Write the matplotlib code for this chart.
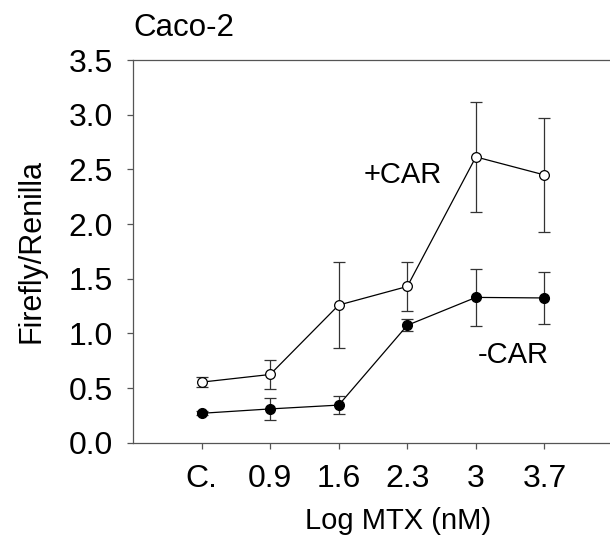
import numpy as np
import matplotlib.pyplot as plt

plt.rcParams['font.family'] = ['Liberation Sans', 'DejaVu Sans']

# categories on the x axis
doses = ["C.", "0.9", "1.6", "2.3", "3", "3.7"]

# +CAR (open circles)
car_plus = [0.555, 0.625, 1.26, 1.43, 2.615, 2.45]
car_plus_err = [0.045, 0.135, 0.39, 0.22, 0.50, 0.52]

# -CAR (filled circles)
car_minus = [0.27, 0.31, 0.345, 1.075, 1.33, 1.325]
car_minus_err = [0.02, 0.10, 0.08, 0.055, 0.26, 0.24]

x = np.arange(1, len(doses) + 1)

fig = plt.figure(figsize=(6.1, 5.42), dpi=100)
ax = fig.add_axes([0.218, 0.183, 0.787, 0.706])

ax.errorbar(x, car_plus, yerr=car_plus_err, color='black', lw=0.9,
            marker='o', ms=7, mfc='white', mec='black', mew=0.9,
            ecolor='#333333', elinewidth=0.9, capsize=4, capthick=0.9)
ax.errorbar(x, car_minus, yerr=car_minus_err, color='black', lw=0.9,
            marker='o', ms=7, mfc='black', mec='black',
            ecolor='#333333', elinewidth=0.9, capsize=4, capthick=0.9)

ax.text(3.94, 2.377, "+CAR", fontsize=21, ha='center', va='baseline')
ax.text(5.54, 0.734, "-CAR", fontsize=21, ha='center', va='baseline')

ax.set_xlim(0, 7)
ax.set_ylim(0, 3.5)
ax.set_xticks(x)
ax.set_xticklabels(doses)
ax.set_yticks(np.arange(0, 3.51, 0.5))
ax.set_yticklabels([f"{v:.1f}" for v in np.arange(0, 3.51, 0.5)])
ax.tick_params(direction='out', length=4.5, width=0.9, color='#555555',
               labelsize=23, pad=10)
ax.tick_params(axis='x', pad=11)

for side in ['left', 'bottom', 'top']:
    ax.spines[side].set_color('#555555')
    ax.spines[side].set_linewidth(0.9)
ax.spines['right'].set_visible(False)

ax.set_xlabel("Log MTX (nM)", fontsize=21)
ax.xaxis.set_label_coords(0.552, -0.167)
ax.set_ylabel("Firefly/Renilla", fontsize=22)
ax.yaxis.set_label_coords(-0.18, 0.5)

fig.text(0.218, 0.9336, "Caco-2", fontsize=22.5, va='baseline')

fig.savefig("out.png", dpi=100)
